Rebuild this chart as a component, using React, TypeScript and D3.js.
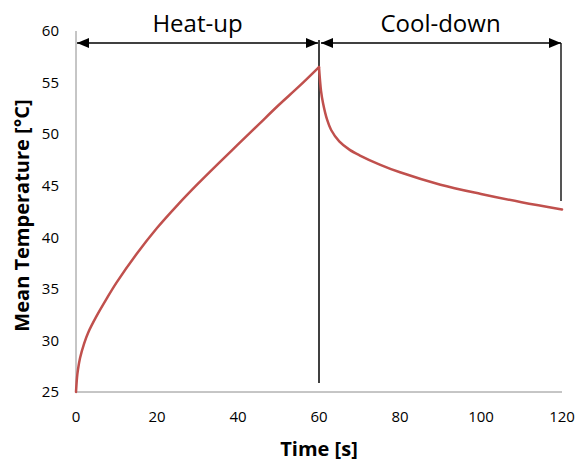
import { useEffect, useRef } from 'react';
import * as d3 from 'd3';

// heat-up phase
const heatTime = [0, 0.25, 0.5, 1, 2, 3, 5, 7.5, 10, 15, 20, 25, 30, 35, 40, 45, 50, 55, 60];
const heatTemp = [25, 26.4, 27.2, 28.3, 29.7, 30.75, 32.3, 34.0, 35.6, 38.4, 40.9, 43.1, 45.15, 47.1, 49.0, 50.9, 52.8, 54.6, 56.5];

// cool-down phase
const coolTime = [60, 60.5, 61, 62, 63, 65, 67.5, 70, 75, 80, 90, 100, 110, 120];
const coolTemp = [56.5, 54.2, 53.0, 51.4, 50.4, 49.3, 48.5, 47.95, 47.05, 46.3, 45.1, 44.2, 43.4, 42.7];

const xTicks = [0, 20, 40, 60, 80, 100, 120];
const yTicks = [25, 30, 35, 40, 45, 50, 55, 60];

const W = 577;
const H = 464;
const FONT = '"Open Sans", sans-serif';

export default function App() {
  const svgRef = useRef<SVGSVGElement>(null);

  useEffect(() => {
    if (!svgRef.current) return;
    const svg = d3.select(svgRef.current);
    svg.selectAll('*').remove();

    const x = d3.scaleLinear().domain([0, 120]).range([76, 562]);
    const y = d3.scaleLinear().domain([25, 60]).range([392, 31]);

    // ── Arrow markers ──
    const defs = svg.append('defs');
    const mk = (id: string, path: string) =>
      defs
        .append('marker')
        .attr('id', id)
        .attr('viewBox', '0 0 12 10')
        .attr('refX', id === 'arrEnd' ? 12 : 0)
        .attr('refY', 5)
        .attr('markerWidth', 12)
        .attr('markerHeight', 10)
        .attr('markerUnits', 'userSpaceOnUse')
        .attr('orient', 'auto')
        .append('path')
        .attr('d', path)
        .attr('fill', '#000');
    mk('arrEnd', 'M0,0 L12,5 L0,10 Z');
    mk('arrStart', 'M12,0 L0,5 L12,10 Z');

    // ── Axes (plain lines, no tick marks) ──
    svg
      .append('line')
      .attr('x1', x(0))
      .attr('x2', x(0))
      .attr('y1', y(60))
      .attr('y2', y(25))
      .attr('stroke', '#8c8c8c')
      .attr('stroke-width', 1);
    svg
      .append('line')
      .attr('x1', x(0))
      .attr('x2', x(120))
      .attr('y1', y(25))
      .attr('y2', y(25))
      .attr('stroke', '#8c8c8c')
      .attr('stroke-width', 1);

    svg
      .selectAll('text.ytick')
      .data(yTicks)
      .enter()
      .append('text')
      .attr('class', 'ytick')
      .attr('x', 59)
      .attr('y', (d) => y(d))
      .attr('dy', '0.35em')
      .attr('text-anchor', 'end')
      .attr('font-family', FONT)
      .attr('font-size', '15px')
      .attr('fill', '#000')
      .text((d) => d);

    svg
      .selectAll('text.xtick')
      .data(xTicks)
      .enter()
      .append('text')
      .attr('class', 'xtick')
      .attr('x', (d) => x(d))
      .attr('y', 422)
      .attr('text-anchor', 'middle')
      .attr('font-family', FONT)
      .attr('font-size', '15px')
      .attr('fill', '#000')
      .text((d) => d);

    // ── Axis titles ──
    svg
      .append('text')
      .attr('x', 319)
      .attr('y', 456)
      .attr('text-anchor', 'middle')
      .attr('font-family', FONT)
      .attr('font-weight', '700')
      .attr('font-size', '20px')
      .text('Time [s]');
    svg
      .append('text')
      .attr('transform', `translate(29,${(y(25) + y(60)) / 2 + 4}) rotate(-90)`)
      .attr('text-anchor', 'middle')
      .attr('font-family', FONT)
      .attr('font-weight', '700')
      .attr('font-size', '20px')
      .text('Mean Temperature [°C]');

    // ── Phase annotations ──
    const arrowY = 43;
    svg
      .append('line')
      .attr('x1', x(60))
      .attr('x2', x(60))
      .attr('y1', arrowY - 3)
      .attr('y2', 383)
      .attr('stroke', '#000')
      .attr('stroke-width', 1.5);
    svg
      .append('line')
      .attr('x1', x(120) - 1)
      .attr('x2', x(120) - 1)
      .attr('y1', arrowY)
      .attr('y2', 201)
      .attr('stroke', '#555')
      .attr('stroke-width', 2);

    const arrows = [
      { from: 0, to: 60, label: 'Heat-up', pad: [1, -1] },
      { from: 60, to: 120, label: 'Cool-down', pad: [2, -1] },
    ];
    arrows.forEach((a) => {
      svg
        .append('line')
        .attr('x1', x(a.from) + a.pad[0])
        .attr('x2', x(a.to) + a.pad[1])
        .attr('y1', arrowY)
        .attr('y2', arrowY)
        .attr('stroke', '#000')
        .attr('stroke-width', 1.5)
        .attr('marker-start', 'url(#arrStart)')
        .attr('marker-end', 'url(#arrEnd)');
      svg
        .append('text')
        .attr('x', (x(a.from) + x(a.to)) / 2)
        .attr('y', 32)
        .attr('text-anchor', 'middle')
        .attr('font-family', FONT)
        .attr('font-size', '24px')
        .attr('fill', '#000')
        .text(a.label);
    });

    // ── Temperature curve ──
    const line = d3
      .line<[number, number]>()
      .x((d) => x(d[0]))
      .y((d) => y(d[1]))
      .curve(d3.curveCatmullRom.alpha(0.5));

    const heat = heatTime.map((t, i) => [t, heatTemp[i]] as [number, number]);
    const cool = coolTime.map((t, i) => [t, coolTemp[i]] as [number, number]);

    [heat, cool].forEach((pts) => {
      svg
        .append('path')
        .attr('d', line(pts))
        .attr('fill', 'none')
        .attr('stroke', '#c0504d')
        .attr('stroke-width', 2.5)
        .attr('stroke-linejoin', 'round')
        .attr('stroke-linecap', 'round');
    });
  }, []);

  return (
    <svg
      ref={svgRef}
      width={W}
      height={H}
      style={{ position: 'absolute', left: 0, top: 0, background: '#fff' }}
    />
  );
}
